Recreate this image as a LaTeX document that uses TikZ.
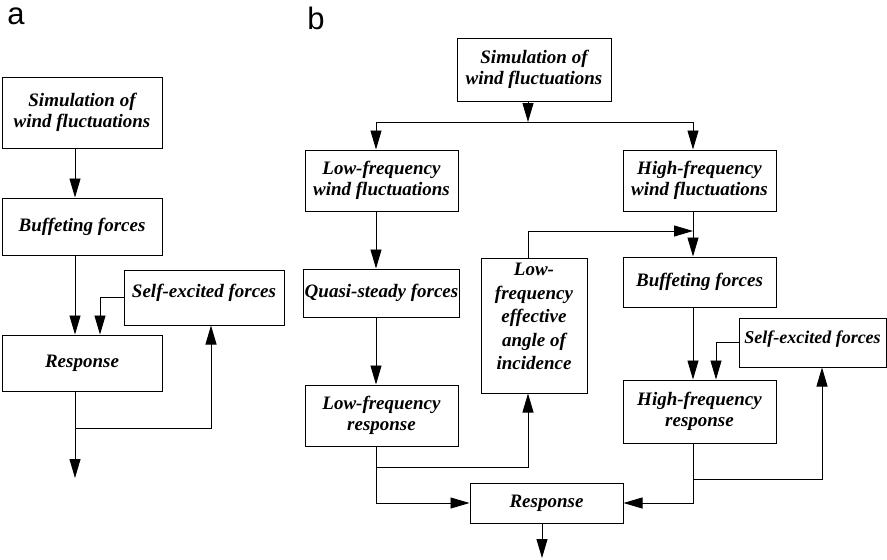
\documentclass[tikz,border=0pt]{standalone}
\usepackage{fontspec}
\setmainfont{Liberation Serif}
\newfontfamily\labelfont{Liberation Sans}
\usetikzlibrary{arrows.meta}

\begin{document}
\begin{tikzpicture}[x=1pt,y=-1pt,
    box/.style={draw,line width=1pt,align=center,inner sep=1pt,
      font=\fontsize{19}{21}\selectfont\bfseries\itshape},
    arr/.style={-{Triangle[width=11pt,length=19pt]}},
    every path/.style={line width=0.9pt}]

  \useasboundingbox (0,0) rectangle (887,560);

  % panel labels
  \node[anchor=base west,inner sep=0pt,font=\fontsize{31}{31}\labelfont] (la) at (7,24) {a};
  \node[anchor=base west,inner sep=0pt,font=\fontsize{31}{31}\labelfont] (lb) at (307,29) {b};

  % panel a
  \begin{scope}
    \node[box,minimum width=160pt,minimum height=71pt] (a1) at (82,112.5) {Simulation of\\wind fluctuations};
    \node[box,minimum width=160pt,minimum height=57pt] (a2) at (82,226.5) {Buffeting forces};
    \node[box,minimum width=160pt,minimum height=55pt,text depth=14pt] (a3) at (204,297.5) {Self-excited forces};
    \node[box,minimum width=160pt,minimum height=56pt] (a4) at (82,363) {Response};
    \coordinate (aout) at (75,478);
    \coordinate (abr) at (75,428);

    \draw[arr] ([xshift=-7pt]a1.south) -- ([xshift=-7pt]a2.north);
    \draw[arr] ([xshift=-7pt]a2.south) -- ([xshift=-7pt]a4.north);
    \draw[arr] (a3.west) -| ([xshift=18pt]a4.north);
    \draw[arr] ([xshift=-7pt]a4.south) -- (aout);
    \draw[arr] (abr) -| ([xshift=7pt]a3.south);
  \end{scope}

  % panel b
  \begin{scope}
    \node[box,minimum width=154pt,minimum height=63pt] (b1) at (534,69.5) {Simulation of\\wind fluctuations};
    \node[box,minimum width=153pt,minimum height=61pt] (b2) at (381.5,180.5) {Low-frequency\\wind fluctuations};
    \node[box,minimum width=153pt,minimum height=61pt] (b3) at (699.5,180.5) {High-frequency\\wind fluctuations};
    \node[box,minimum width=153pt,minimum height=48pt] (b4) at (381.5,293) {Quasi-steady forces};
    \node[box,minimum width=153pt,minimum height=61pt] (b5) at (381.5,415.5) {Low-frequency\\response};
    \node[box,minimum width=106pt,minimum height=135pt,text depth=18pt,
      font=\fontsize{19}{23.5}\selectfont\bfseries\itshape] (b6) at (534,325.5)
      {Low-\\frequency\\effective\\angle of\\incidence};
    \node[box,minimum width=153pt,minimum height=50pt] (b7) at (699.5,282) {Buffeting forces};
    \node[box,minimum width=147pt,minimum height=49pt,text depth=10pt,
      font=\fontsize{18}{21}\selectfont\bfseries\itshape] (b8) at (812.5,342.5) {Self-excited forces};
    \node[box,minimum width=153pt,minimum height=63pt] (b9) at (699.5,411.5) {High-frequency\\response};
    \node[box,minimum width=153pt,minimum height=40pt] (b10) at (546.5,503) {Response};
    \coordinate (split) at (528,122);
    \coordinate (lowbr) at (376,467);
    \coordinate (highbr) at (693,479);
    \coordinate (anglend) at (693,231);
    \coordinate (bout) at (542,558);

    \draw[arr] ([xshift=-6pt]b1.south) -- (split);
    \draw[arr] (split) -| ([xshift=-5.5pt]b2.north);
    \draw[arr] (split) -| ([xshift=-6.5pt]b3.north);
    \draw[arr] ([xshift=-5.5pt]b2.south) -- ([xshift=-5.5pt]b4.north);
    \draw[arr] ([xshift=-5.5pt]b4.south) -- ([xshift=-5.5pt]b5.north);
    \draw[arr] ([xshift=-5.5pt]b5.south) |- (b10.west);
    \draw[arr] (lowbr) -| ([xshift=-6pt]b6.south);
    \draw[arr] ([xshift=-6pt]b6.north) |- (anglend);
    \draw[arr] ([xshift=-6.5pt]b3.south) -- ([xshift=-6.5pt]b7.north);
    \draw[arr] ([xshift=-6.5pt]b7.south) -- ([xshift=-6.5pt]b9.north);
    \draw[arr] (b8.west) -| ([xshift=16.5pt]b9.north);
    \draw[arr] ([xshift=-6.5pt]b9.south) |- (b10.east);
    \draw[arr] (highbr) -| ([xshift=9.5pt]b8.south);
    \draw[arr] ([xshift=-4.5pt]b10.south) -- (bout);
  \end{scope}

\end{tikzpicture}
\end{document}
